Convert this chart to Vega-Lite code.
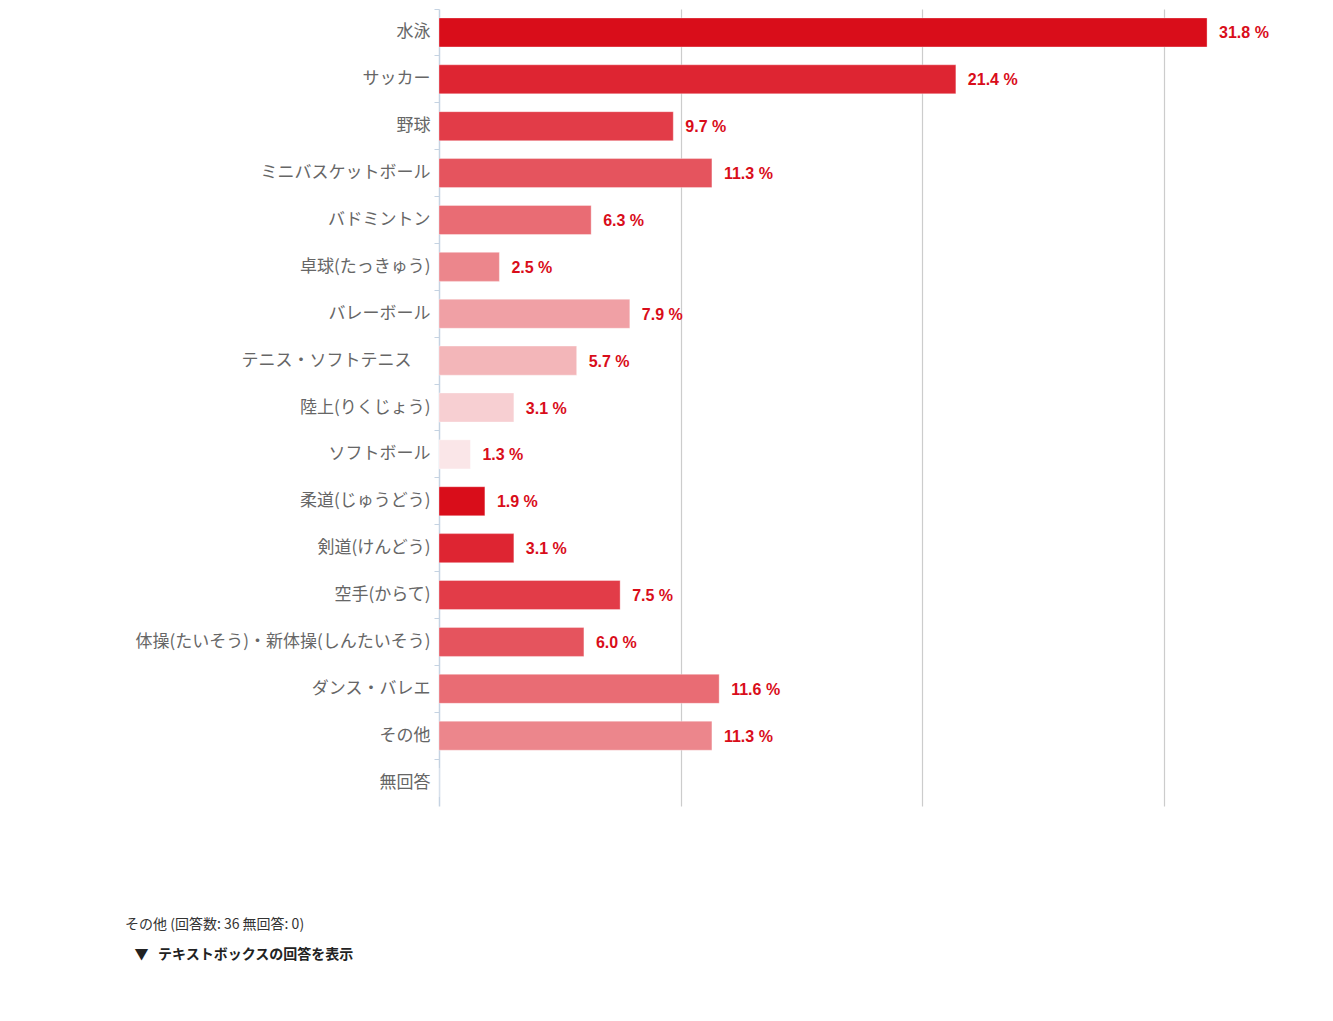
{
  "$schema": "https://vega.github.io/schema/vega-lite/v6.json",
  "width": 884,
  "height": 797,
  "padding": {"left": 125, "top": 8, "right": 10, "bottom": 10},
  "background": "white",
  "config": {
    "view": {"stroke": null},
    "font": "Noto Sans CJK JP"
  },
  "title": {
    "text": "その他 (回答数: 36 無回答: 0)",
    "subtitle": "\u200b\u00a0\u00a0\u00a0▼\u00a0\u00a0\u00a0テキストボックスの回答を表示",
    "orient": "bottom",
    "anchor": "start",
    "frame": "bounds",
    "offset": 112,
    "dx": -10,
    "font": "Noto Sans CJK JP",
    "fontSize": 14,
    "fontWeight": "normal",
    "color": "#333333",
    "subtitleFont": "Noto Sans CJK JP",
    "subtitleFontSize": 14,
    "subtitleFontWeight": "bold",
    "subtitleColor": "#222222",
    "subtitlePadding": 16
  },
  "data": {
    "values": [
      {"sport": "水泳", "pct": 31.8, "label": "31.8 %"},
      {"sport": "サッカー", "pct": 21.4, "label": "21.4 %"},
      {"sport": "野球", "pct": 9.7, "label": "9.7 %"},
      {"sport": "ミニバスケットボール", "pct": 11.3, "label": "11.3 %"},
      {"sport": "バドミントン", "pct": 6.3, "label": "6.3 %"},
      {"sport": "卓球(たっきゅう)", "pct": 2.5, "label": "2.5 %"},
      {"sport": "バレーボール", "pct": 7.9, "label": "7.9 %"},
      {"sport": "テニス・ソフトテニス\u00a0\u00a0\u00a0\u00a0\u00a0\u200b", "pct": 5.7, "label": "5.7 %"},
      {"sport": "陸上(りくじょう)", "pct": 3.1, "label": "3.1 %"},
      {"sport": "ソフトボール", "pct": 1.3, "label": "1.3 %"},
      {"sport": "柔道(じゅうどう)", "pct": 1.9, "label": "1.9 %"},
      {"sport": "剣道(けんどう)", "pct": 3.1, "label": "3.1 %"},
      {"sport": "空手(からて)", "pct": 7.5, "label": "7.5 %"},
      {"sport": "体操(たいそう)・新体操(しんたいそう)", "pct": 6.0, "label": "6.0 %"},
      {"sport": "ダンス・バレエ", "pct": 11.6, "label": "11.6 %"},
      {"sport": "その他", "pct": 11.3, "label": "11.3 %"},
      {"sport": "無回答", "pct": 0, "label": ""}
    ]
  },
  "encoding": {
    "y": {
      "field": "sport",
      "type": "nominal",
      "sort": null,
      "title": null,
      "scale": {"paddingInner": 0, "paddingOuter": 0},
      "axis": {
        "bandPosition": 0,
        "labelFont": "Noto Sans CJK JP",
        "labelFontSize": 17,
        "labelColor": "#666666",
        "labelPadding": 4,
        "labelLimit": 400,
        "tickSize": 5,
        "tickColor": "#c5d3e2",
        "domainColor": "#c5d3e2",
        "domainWidth": 1.5,
        "grid": false
      }
    },
    "x": {
      "field": "pct",
      "type": "quantitative",
      "title": null,
      "scale": {"domain": [0, 36.6], "nice": false},
      "axis": {
        "values": [10, 20, 30],
        "labels": false,
        "ticks": false,
        "domain": false,
        "grid": true,
        "gridColor": "#cccccc",
        "gridWidth": 1.2
      }
    }
  },
  "layer": [
    {
      "mark": {"type": "bar", "height": {"band": 0.62}, "stroke": "#ffffff", "strokeOpacity": 0.35, "strokeWidth": 1},
      "encoding": {
        "color": {
          "field": "sport",
          "type": "nominal",
          "legend": null,
          "scale": {
            "domain": ["水泳", "サッカー", "野球", "ミニバスケットボール", "バドミントン", "卓球(たっきゅう)", "バレーボール", "テニス・ソフトテニス\u00a0\u00a0\u00a0\u00a0\u00a0\u200b", "陸上(りくじょう)", "ソフトボール", "柔道(じゅうどう)", "剣道(けんどう)", "空手(からて)", "体操(たいそう)・新体操(しんたいそう)", "ダンス・バレエ", "その他", "無回答"],
            "range": ["#d90d1a", "#de2532", "#e23c48", "#e5545e", "#e96c74", "#ec868c", "#f0a0a5", "#f3b6b9", "#f7cfd2", "#fae6e8", "#d90d1a", "#de2532", "#e23c48", "#e5545e", "#e96c74", "#ec868c", "#f0a0a5"]
          }
        }
      }
    },
    {
      "mark": {
        "type": "text",
        "align": "left",
        "baseline": "middle",
        "dx": 12,
        "dy": 1,
        "font": "Liberation Sans",
        "fontSize": 16,
        "fontWeight": "bold",
        "color": "#d90d1a"
      },
      "encoding": {
        "text": {"field": "label"}
      }
    }
  ]
}
